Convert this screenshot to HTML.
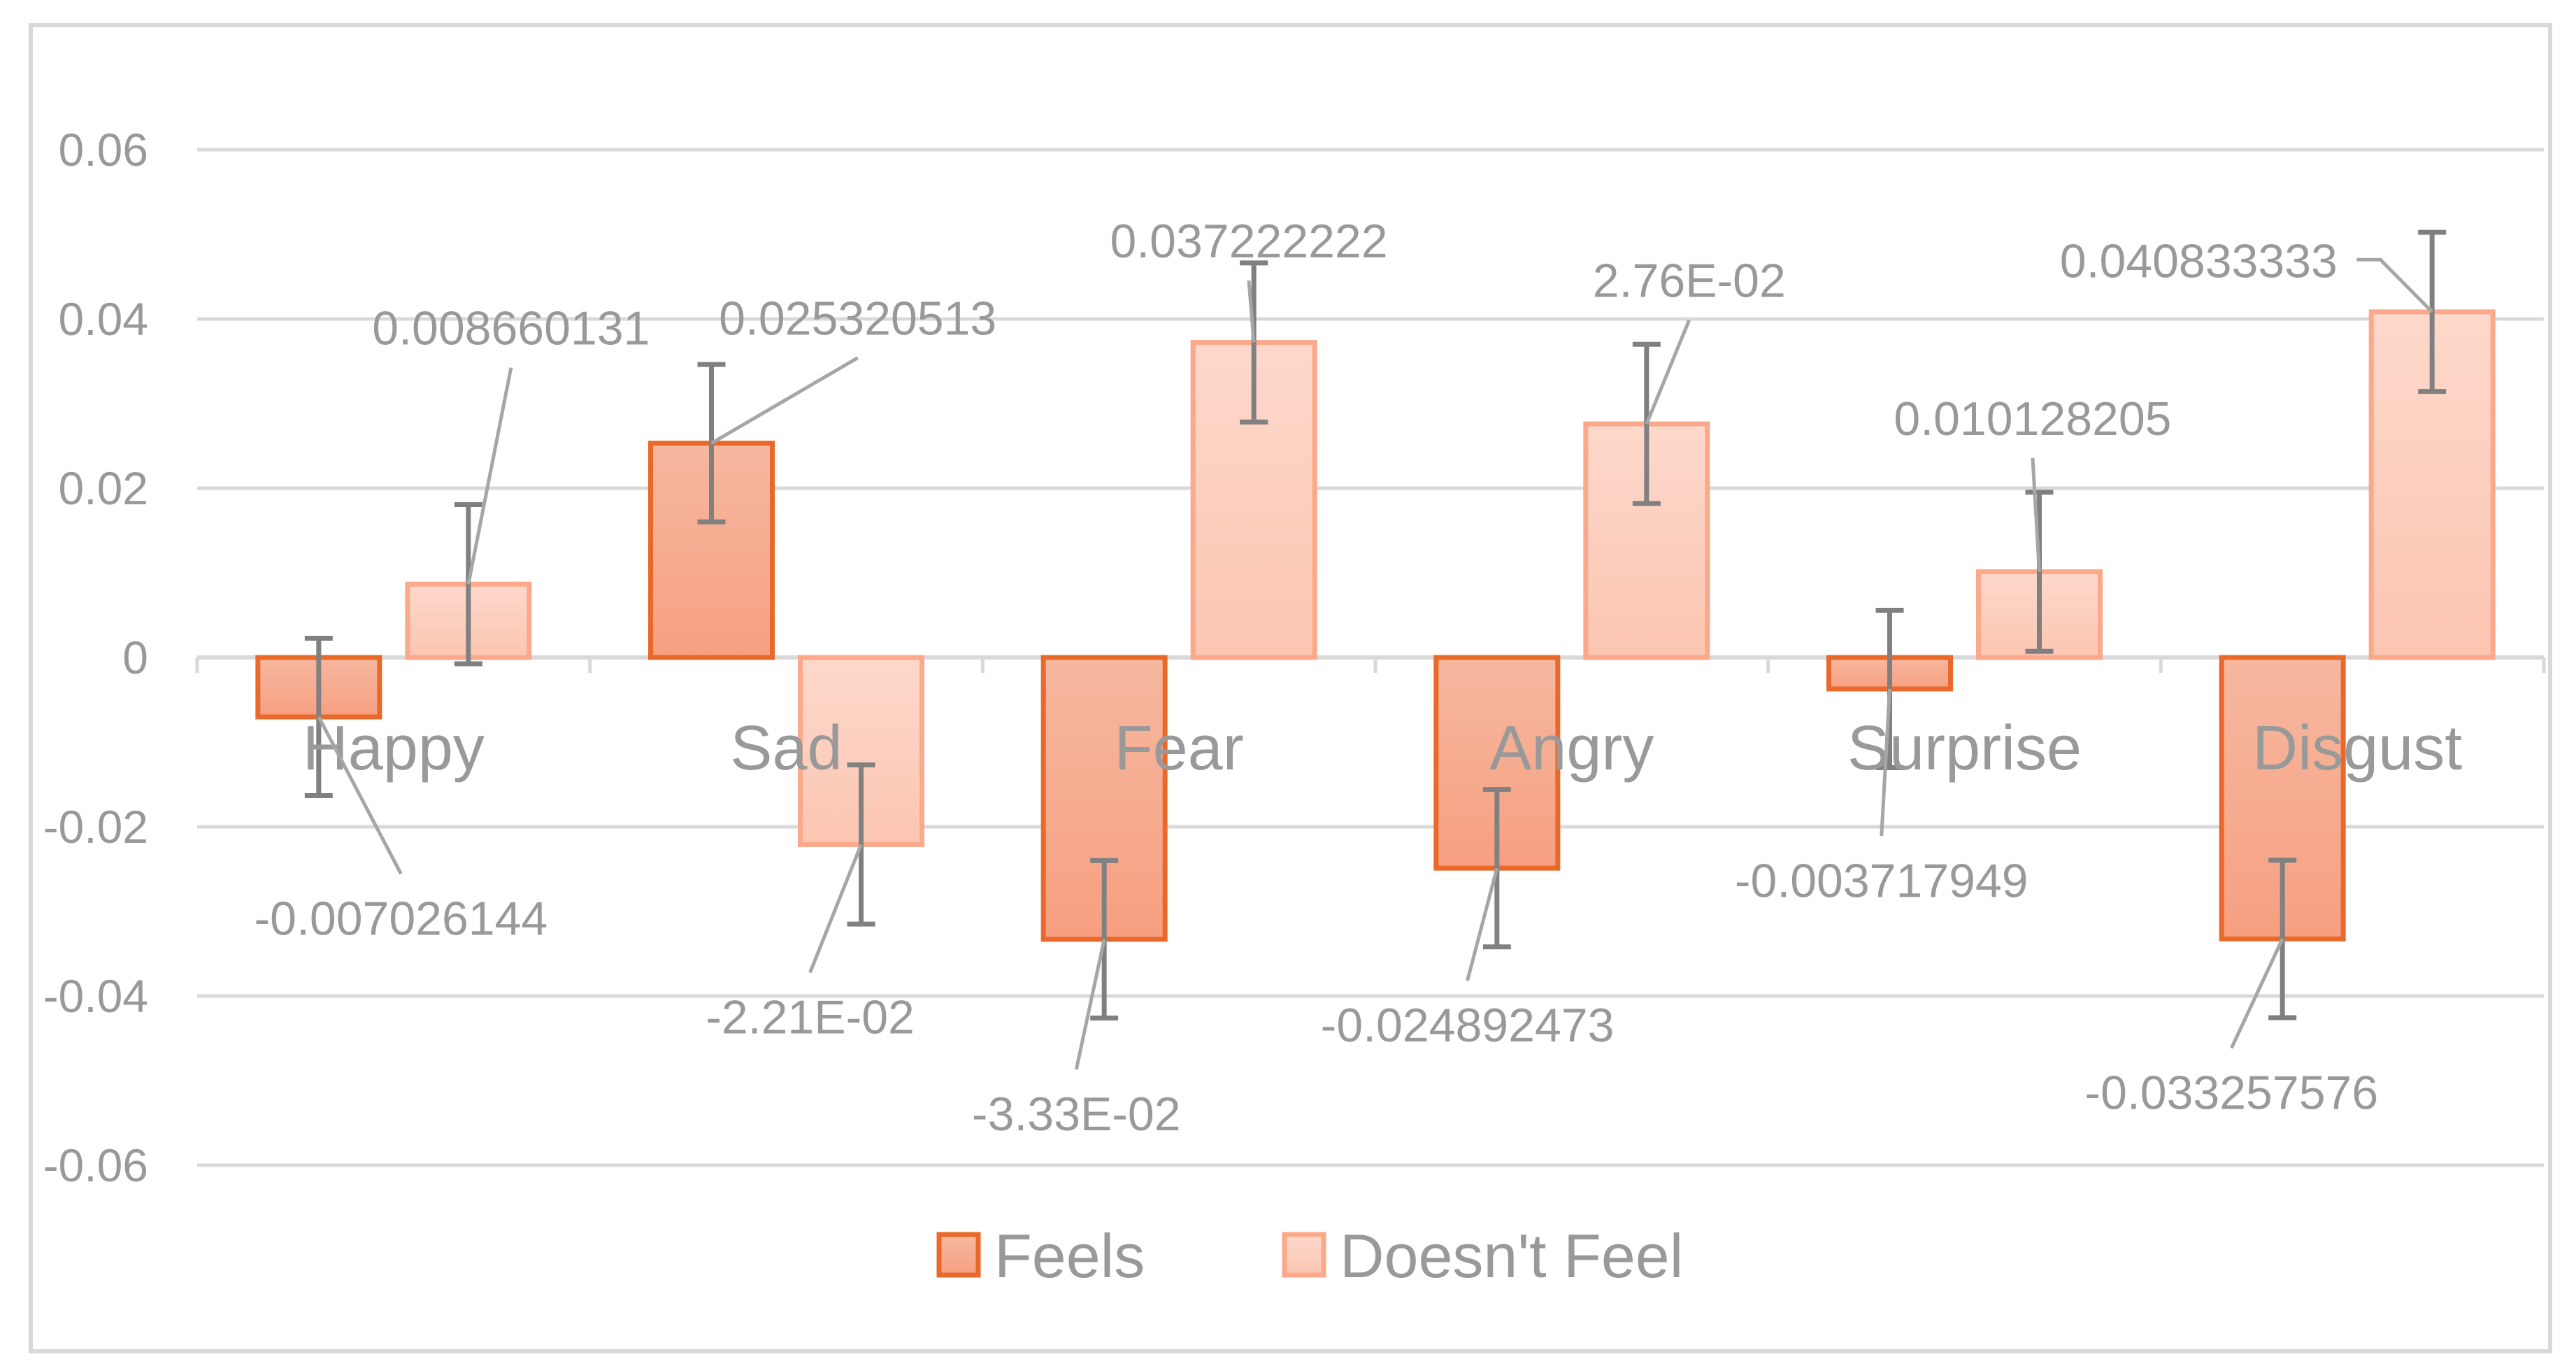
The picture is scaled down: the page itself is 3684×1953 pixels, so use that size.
<!DOCTYPE html>
<html><head><meta charset="utf-8">
<style>
html,body{margin:0;padding:0;background:#fff;}
svg{display:block;}
text{font-family:"Liberation Sans",sans-serif;fill:#999;}
</style></head>
<body>
<svg id="chart" width="3684" height="1953" viewBox="0 0 3684 1953" xmlns="http://www.w3.org/2000/svg">
<defs>
<linearGradient id="gF" x1="0" y1="0" x2="0" y2="1"><stop offset="0" stop-color="#f6b8a0"/><stop offset="1" stop-color="#f79f80"/></linearGradient>
<linearGradient id="gD" x1="0" y1="0" x2="0" y2="1"><stop offset="0" stop-color="#fdd8cb"/><stop offset="1" stop-color="#fcc6b2"/></linearGradient>
</defs>
<rect x="44" y="36" width="3603" height="1896" fill="#fff" stroke="#d9d9d9" stroke-width="6"/>
<g id="grid"></g><g id="bars"></g><g id="errs"></g><g id="labels"></g>
<g>
<rect x="1343" y="1765" width="56" height="58" fill="url(#gF)" stroke="#e8692a" stroke-width="7"/>
<text x="1422" y="1826" font-size="88">Feels</text>
<rect x="1837" y="1765" width="56" height="58" fill="url(#gD)" stroke="#fba98a" stroke-width="7"/>
<text x="1916" y="1826" font-size="88">Doesn't Feel</text>
</g>
</svg>
<script>
const categories=["Happy","Sad","Fear","Angry","Surprise","Disgust"];
const feels=[-0.007026144,0.025320513,-0.0333,-0.024892473,-0.003717949,-0.033257576];
const doesntFeel=[0.008660131,-0.0221,0.037222222,0.0276,0.010128205,0.040833333];
const feelsErr=[0.0093,0.0093,0.0093,0.0093,0.0093,0.0093];
const doesntErr=[0.0094,0.0094,0.0094,0.0094,0.0094,0.0094];
const feelsLabels=["-0.007026144","0.025320513","-3.33E-02","-0.024892473","-0.003717949","-0.033257576"];
const doesntLabels=["0.008660131","-2.21E-02","0.037222222","2.76E-02","0.010128205","0.040833333"];
const yTicks=[0.06,0.04,0.02,0,-0.02,-0.04,-0.06];
const yTickLabels=["0.06","0.04","0.02","0","-0.02","-0.04","-0.06"];
const S=2.35;
const fLab=[[244,558],[522,193],[655,677],[893,623],[1145,535],[1358,664]].map(p=>[p[0]*S,p[1]*S]);
const dLab=[[311,199],[493,618],[760,146],[1028,170],[1237,254],[1338,158]].map(p=>[p[0]*S,p[1]*S]);

const NS="http://www.w3.org/2000/svg";
const x0=282,x1=3652,y0=940,pxPer=242/0.02;
const y=v=>y0-v*pxPer;
const cw=(x1-x0)/categories.length;
const bw=174;
function mk(t,a,p){const e=document.createElementNS(NS,t);for(const k in a)e.setAttribute(k,a[k]);p.appendChild(e);return e;}
const G=document.getElementById('grid'),B=document.getElementById('bars'),E=document.getElementById('errs'),L=document.getElementById('labels');
yTicks.forEach((t,i)=>{
  if(t!==0){const l=mk('line',{x1:x0,x2:3638,y1:y(t),y2:y(t),stroke:'#d9d9d9','stroke-width':5},G);
  
  }
  const tx=mk('text',{x:212,y:y(t)+23,'font-size':66,'text-anchor':'end'},G);
  tx.textContent=yTickLabels[i];
  
  
});
const ax=mk('line',{x1:x0,x2:3638,y1:y0,y2:y0,stroke:'#d9d9d9','stroke-width':6},G);


for(let i=0;i<=categories.length;i++){
  const tk=mk('line',{x1:Math.min(x0+i*cw,3638),x2:Math.min(x0+i*cw,3638),y1:y0,y2:y0+22,stroke:'#d9d9d9','stroke-width':5},G);
  
  
}
function bar(v,cx,fill,stroke,name){
  const top=Math.min(y(v),y0),h=Math.abs(y(v)-y0);
  const r=mk('rect',{x:cx-bw/2,y:top,width:bw,height:h,fill:fill,stroke:stroke,'stroke-width':7},B);
  
  
}
function err(v,e,cx){
  const g=mk('g',{stroke:'#808080','stroke-width':7},E);
  
  
  mk('line',{x1:cx,x2:cx,y1:y(v+e),y2:y(v-e)},g);
  mk('line',{x1:cx-20,x2:cx+20,y1:y(v+e),y2:y(v+e)},g);
  mk('line',{x1:cx-20,x2:cx+20,y1:y(v-e),y2:y(v-e)},g);
}
function label(txt,v,cx,pos,special){
  const lx=pos[0],ly=pos[1];
  const endY=v>=0?ly+58:ly-62;
  let pts;
  if(special){pts=`${cx},${y(v)} ${lx+260},${ly} ${lx+226},${ly}`;}
  else pts=`${cx},${y(v)} ${lx},${endY}`;
  const pl=mk('polyline',{points:pts,fill:'none',stroke:'#a6a6a6','stroke-width':5},L);
  
  
  const t=mk('text',{x:lx,y:ly+25,'font-size':68,'text-anchor':'middle'},L);
  t.textContent=txt;
  
  
}
categories.forEach((c,i)=>{
  const cc=x0+cw*(i+0.5);
  const fx=cc-107,dx=cc+107;
  bar(feels[i],fx,'url(#gF)','#e8692a','bar-feels-'+c.toLowerCase());
  bar(doesntFeel[i],dx,'url(#gD)','#fba98a','bar-doesnt-feel-'+c.toLowerCase());
  const ct=mk('text',{x:cc,y:1100,'font-size':90,'text-anchor':'middle'},L);
  ct.textContent=c;
  
  
  err(feels[i],feelsErr[i],fx);
  err(doesntFeel[i],doesntErr[i],dx);
  label(feelsLabels[i],feels[i],fx,fLab[i],false);
  label(doesntLabels[i],doesntFeel[i],dx,dLab[i],i===5);
});
</script>
</body></html>
